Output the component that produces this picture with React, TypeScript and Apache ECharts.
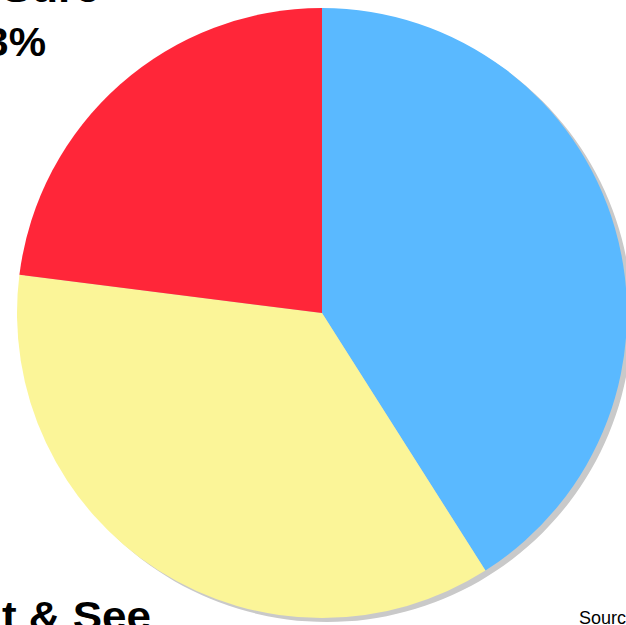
import React, { useEffect, useRef } from "react";
import * as echarts from "echarts";

const categories = ["Yes", "Wait & See", "Not Sure"];
const values = [41, 36, 23];
const colors = ["#5AB9FF", "#FBF598", "#FF2639"];

export default function App() {
  const ref = useRef<HTMLDivElement>(null);
  useEffect(() => {
    document.body.style.margin = "0";
    const chart = echarts.init(ref.current!, null, { renderer: "svg" });
    const bold = "bold 40px 'Liberation Sans', Arial, sans-serif";
    chart.setOption({
      animation: false,
      backgroundColor: "#ffffff",
      series: [
        {
          type: "pie",
          silent: true,
          center: [327, 317],
          radius: 305,
          startAngle: 90,
          label: { show: false },
          labelLine: { show: false },
          itemStyle: { color: "#c9c9c9", borderWidth: 0 },
          data: [{ name: "shadow", value: 1 }],
          z: 1,
        },
        {
          type: "pie",
          center: [322, 313],
          radius: 305,
          startAngle: 90,
          clockwise: true,
          label: { show: false },
          labelLine: { show: false },
          itemStyle: { borderWidth: 0 },
          data: categories.map((c, i) => ({
            name: c,
            value: values[i],
            itemStyle: { color: colors[i] },
          })),
          z: 2,
        },
      ],
      graphic: [
        {
          type: "text",
          x: 8,
          y: 8,
          scaleX: 1.1,
          style: {
            text: "Not Sure",
            font: bold,
            fill: "#000",
            textAlign: "center",
            textVerticalAlign: "bottom",
          },
        },
        {
          type: "text",
          x: 4,
          y: 62,
          scaleX: 1.05,
          style: {
            text: values[2] + "%",
            font: bold,
            fill: "#000",
            textAlign: "center",
            textVerticalAlign: "bottom",
          },
        },
        {
          type: "text",
          x: 151,
          y: 636,
          scaleX: 1.1,
          style: {
            text: "Wait & See",
            font: bold,
            fill: "#000",
            textAlign: "right",
            textVerticalAlign: "bottom",
          },
        },
        {
          type: "text",
          x: 579,
          y: 609,
          style: {
            text: "Source:",
            font: "18px 'Liberation Sans', Arial, sans-serif",
            fill: "#000",
            textAlign: "left",
            textVerticalAlign: "top",
          },
        },
      ],
    });
    return () => chart.dispose();
  }, []);
  return <div ref={ref} style={{ width: 626, height: 625 }} />;
}
